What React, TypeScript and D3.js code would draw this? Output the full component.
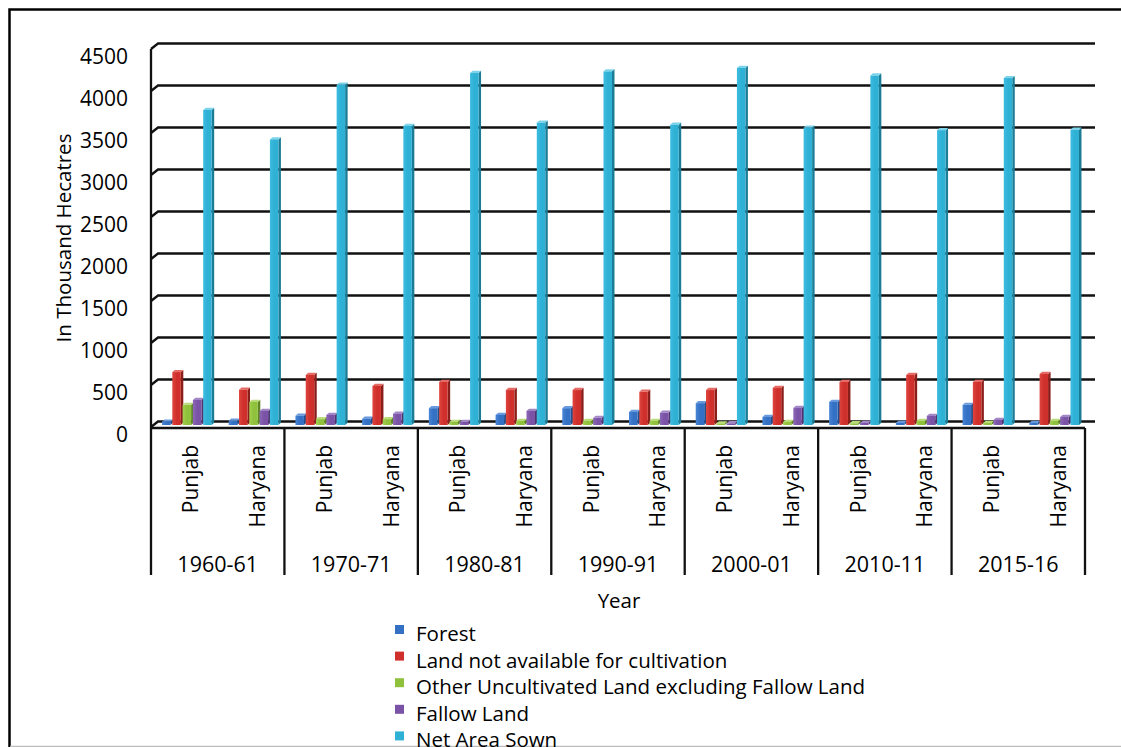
import React from "react";
import * as d3 from "d3";

const years = ["1960-61", "1970-71", "1980-81", "1990-91", "2000-01", "2010-11", "2015-16"];
const states = ["Punjab", "Haryana"];
const seriesNames = [
  "Forest",
  "Land not available for cultivation",
  "Other Uncultivated Land excluding Fallow Land",
  "Fallow Land",
  "Net Area Sown",
];
// values in order: Punjab 1960-61, Haryana 1960-61, Punjab 1970-71, ...
const forest = [40, 50, 110, 75, 200, 120, 200, 155, 260, 95, 275, 25, 240, 25];
const landNotAvailable = [630, 420, 595, 465, 512, 416, 416, 395, 416, 440, 512, 595, 512, 607];
const otherUncultivated = [240, 275, 70, 70, 35, 48, 48, 48, 18, 36, 20, 48, 24, 48];
const fallowLand = [298, 168, 120, 135, 35, 168, 85, 145, 20, 202, 24, 108, 60, 95];
const netAreaSown = [3750, 3400, 4050, 3560, 4190, 3600, 4210, 3575, 4250, 3540, 4160, 3510, 4130, 3515];
const yTicks = [0, 500, 1000, 1500, 2000, 2500, 3000, 3500, 4000, 4500];

const seriesData = [forest, landNotAvailable, otherUncultivated, fallowLand, netAreaSown];
const colors = [
  { front: "#3470c4", light: "#4a86d6", side: "#224f8c", top: "#6a9ade" },
  { front: "#cf302b", light: "#e0453f", side: "#8a1e1b", top: "#e46a63" },
  { front: "#8fc13c", light: "#a2d04f", side: "#5f8526", top: "#b8dc78" },
  { front: "#7a53a6", light: "#8d67b8", side: "#4f3470", top: "#a287c6" },
  { front: "#2fb0d5", light: "#3dbde0", side: "#1c7c96", top: "#7cd3ea" },
];

const FONT = "'Open Sans', sans-serif";

export default function App() {
  const left = 151;
  const right = 1085;
  const yFront0 = 427;
  const depthX = 7;
  const depthY = 5.5;
  const yTopVal = 49;

  const yFront = d3.scaleLinear().domain([0, 4500]).range([yFront0, yTopVal]);
  const yBar = d3.scaleLinear().domain([0, 4500]).range([425, 425 - (yFront0 - yTopVal)]);

  const cats = years.flatMap((y) => states.map((s) => `${y}|${s}`));
  const xCat = d3.scaleBand<string>().domain(cats).range([left, right]);
  const xGroup = d3.scaleBand<string>().domain(years).range([left, right]);
  const xSeries = d3
    .scaleBand<number>()
    .domain(d3.range(5))
    .range([11, 11 + 5 * 10.3]);

  const barW = 8.5;
  const sideW = 2.5;
  const topH = 2.2;

  return (
    <svg
      width={1121}
      height={747}
      style={{ position: "absolute", left: 0, top: 0, background: "#fff" }}
      fontFamily={FONT}
    >
      <defs>
        {colors.map((c, i) => (
          <linearGradient key={i} id={`g${i}`} x1="0" x2="1" y1="0" y2="0">
            <stop offset="0" stopColor={c.light} />
            <stop offset="0.5" stopColor={c.front} />
            <stop offset="1" stopColor={c.front} />
          </linearGradient>
        ))}
      </defs>
      <rect x={0} y={0} width={1121} height={747} fill="#fff" />
      {/* outer frame */}
      <rect x={9.5} y={9.5} width={1200} height={800} fill="none" stroke="#000" strokeWidth={2.5} />
      <line x1={10} x2={1121} y1={746.5} y2={746.5} stroke="#bdbdbd" strokeWidth={1.5} />

      {/* gridlines (back wall + side wall diagonals) */}
      {yTicks.map((t) => (
        <g key={t}>
          <polyline
            points={`${left},${yFront(t)} ${left + depthX},${yFront(t) - depthY} ${1095},${yFront(t) - depthY}`}
            fill="none"
            stroke="#111"
            strokeWidth={2.3}
          />
          <text
            x={128}
            y={yFront(t) + 7}
            textAnchor="end"
            dominantBaseline="central"
            fontSize={21}
            fill="#000"
          >
            {t}
          </text>
        </g>
      ))}
      {/* left axis */}
      <line x1={left} x2={left} y1={yFront(4500)} y2={575} stroke="#111" strokeWidth={2.3} />
      {/* floor front edge */}
      <line x1={left} x2={right} y1={428} y2={428} stroke="#111" strokeWidth={2.3} />

      {/* bars */}
      {cats.map((c, ci) => {
        const cx = xCat(c)!;
        return (
          <g key={c}>
            {seriesData.map((arr, si) => {
              const v = arr[ci];
              const x0 = cx + xSeries(si)!;
              const yt = yBar(v);
              const yb = yBar(0);
              const col = colors[si];
              return (
                <g key={si}>
                  <polygon
                    points={`${x0 + barW},${yt} ${x0 + barW + sideW},${yt - topH} ${x0 + barW + sideW},${yb - topH} ${x0 + barW},${yb}`}
                    fill={col.side}
                  />
                  <polygon
                    points={`${x0},${yt} ${x0 + sideW},${yt - topH} ${x0 + barW + sideW},${yt - topH} ${x0 + barW},${yt}`}
                    fill={col.top}
                  />
                  <rect x={x0} y={yt} width={barW} height={yb - yt} fill={`url(#g${si})`} />
                </g>
              );
            })}
          </g>
        );
      })}

      {/* category labels */}
      {cats.map((c) => {
        const cx = xCat(c)! + xCat.bandwidth() / 2 + 6;
        const s = c.split("|")[1];
        return (
          <text
            key={c}
            transform={`translate(${cx},445) rotate(-90)`}
            textAnchor="end"
            dominantBaseline="central"
            fontSize={21}
            fill="#000"
          >
            {s}
          </text>
        );
      })}
      {/* group dividers and labels */}
      {years.map((y) => (
        <g key={y}>
          <line
            x1={xGroup(y)! + xGroup.bandwidth()}
            x2={xGroup(y)! + xGroup.bandwidth()}
            y1={428}
            y2={575}
            stroke="#111"
            strokeWidth={2.3}
          />
          <text
            x={xGroup(y)! + xGroup.bandwidth() / 2}
            y={563}
            textAnchor="middle"
            dominantBaseline="central"
            fontSize={21.5}
            fill="#000"
          >
            {y}
          </text>
        </g>
      ))}

      {/* axis titles */}
      <text
        transform={`translate(63,238) rotate(-90)`}
        textAnchor="middle"
        dominantBaseline="central"
        fontSize={20.5}
        fill="#000"
      >
        In Thousand Hecatres
      </text>
      <text x={619} y={600} textAnchor="middle" dominantBaseline="central" fontSize={20.5} fill="#000">
        Year
      </text>

      {/* legend */}
      {seriesNames.map((n, i) => {
        const base = 641 + i * 26.6;
        return (
          <g key={n}>
            <rect x={395} y={base - 16} width={9} height={9} fill={colors[i].front} />
            <text x={416} y={base} fontSize={20.5} fill="#000">
              {n}
            </text>
          </g>
        );
      })}
    </svg>
  );
}
